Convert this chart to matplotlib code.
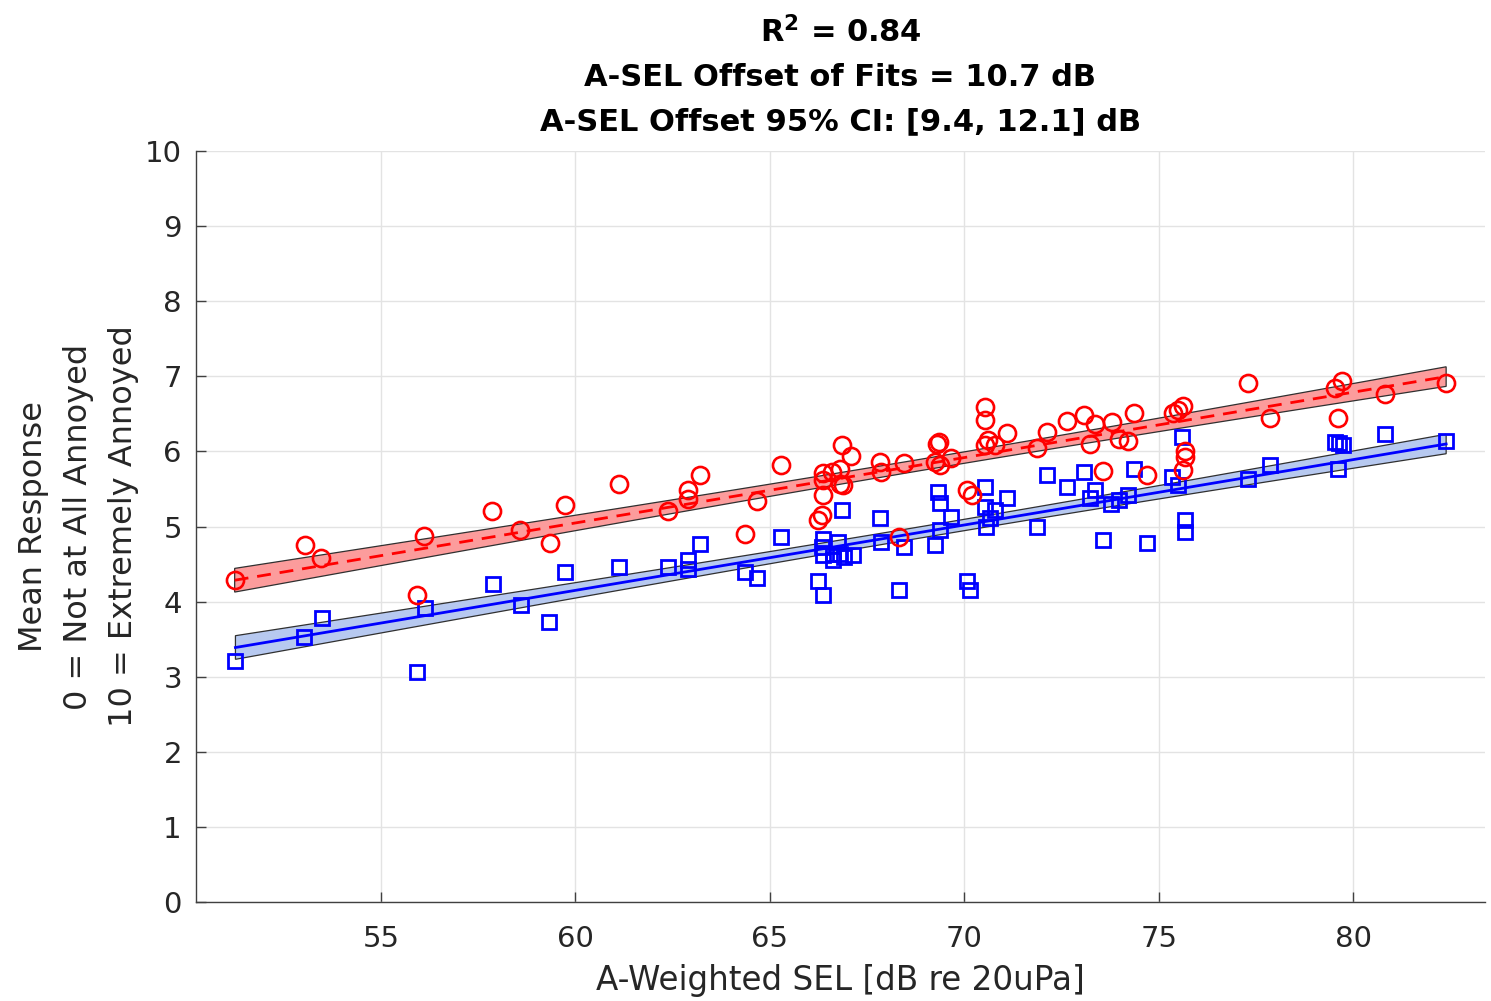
import numpy as np
import matplotlib
matplotlib.use("Agg")
import matplotlib.pyplot as plt
from matplotlib.patches import Polygon

plt.rcParams['font.family'] = ['DejaVu Sans']
plt.rcParams['mathtext.fontset'] = 'dejavusans'

# A-weighted SEL and mean annoyance for the two stimulus groups
red_x = [51.24, 53.04, 53.47, 55.94, 56.12, 57.86, 58.58, 59.35, 59.74, 61.13,
         62.38, 62.90, 62.90, 63.20, 64.35, 64.66, 65.30, 66.25, 66.33, 66.38,
         66.38, 66.38, 66.59, 66.81, 66.81, 66.85, 66.89, 67.10, 67.83, 67.87,
         68.33, 68.45, 69.25, 69.30, 69.35, 69.38, 69.67, 70.06, 70.19, 70.53,
         70.53, 70.62, 70.53, 70.79, 71.09, 71.88, 72.13, 72.63, 73.08, 73.23,
         73.36, 73.57, 73.81, 73.98, 74.20, 74.36, 74.71, 75.37, 75.50, 75.63,
         75.67, 75.67, 75.63, 77.30, 77.85, 79.52, 79.70, 79.61, 80.81, 82.39]
red_y = [4.29, 4.75, 4.58, 4.09, 4.87, 5.21, 4.95, 4.78, 5.29, 5.56,
         5.21, 5.48, 5.37, 5.69, 4.90, 5.34, 5.82, 5.09, 5.15, 5.42,
         5.62, 5.71, 5.73, 5.77, 5.57, 6.08, 5.55, 5.94, 5.86, 5.73,
         4.86, 5.85, 5.86, 6.10, 6.13, 5.82, 5.91, 5.49, 5.42, 6.59,
         6.42, 6.15, 6.08, 6.08, 6.24, 6.04, 6.26, 6.40, 6.48, 6.10,
         6.37, 5.74, 6.39, 6.17, 6.14, 6.51, 5.69, 6.51, 6.55, 6.61,
         6.00, 5.93, 5.75, 6.91, 6.44, 6.84, 6.93, 6.44, 6.77, 6.91]

blue_x = [51.26, 53.03, 53.49, 55.93, 56.14, 57.87, 58.60, 59.33, 59.74, 61.13,
          62.37, 62.90, 62.90, 63.20, 64.35, 64.66, 65.30, 66.25, 66.38, 66.38,
          66.33, 66.38, 66.63, 66.63, 66.76, 66.81, 66.85, 66.90, 67.15, 67.83,
          67.87, 68.33, 68.45, 69.24, 69.33, 69.37, 69.37, 69.67, 70.06, 70.14,
          70.53, 70.53, 70.79, 70.66, 70.57, 71.09, 71.88, 72.13, 72.65, 73.08,
          73.36, 73.23, 73.57, 73.78, 73.98, 74.20, 74.36, 74.71, 75.33, 75.50,
          75.61, 75.67, 75.67, 77.30, 77.85, 79.52, 79.63, 79.73, 79.61, 80.81,
          82.39]
blue_y = [3.21, 3.53, 3.78, 3.07, 3.91, 4.24, 3.96, 3.73, 4.39, 4.46,
          4.46, 4.55, 4.44, 4.77, 4.40, 4.31, 4.86, 4.27, 4.09, 4.84,
          4.73, 4.62, 4.55, 4.64, 4.80, 4.64, 5.22, 4.59, 4.62, 5.11,
          4.80, 4.16, 4.73, 4.75, 5.46, 5.31, 4.95, 5.13, 4.27, 4.16,
          5.53, 5.26, 5.22, 5.11, 5.00, 5.38, 5.00, 5.69, 5.53, 5.72,
          5.49, 5.38, 4.82, 5.30, 5.35, 5.42, 5.76, 4.78, 5.66, 5.55,
          6.19, 5.09, 4.93, 5.63, 5.82, 6.13, 6.11, 6.08, 5.77, 6.23,
          6.14]

title_lines = [r"$\mathbf{R^2}$ = 0.84",
               "A-SEL Offset of Fits = 10.7 dB",
               "A-SEL Offset 95% CI: [9.4, 12.1] dB"]
x_ticks = [55, 60, 65, 70, 75, 80]
y_ticks = list(range(0, 11))
T_CRIT = 1.977

# Common-slope linear model: y = b0 + b1*x + b2*group
rx, ry = np.array(red_x), np.array(red_y)
bx, by = np.array(blue_x), np.array(blue_y)
X = np.column_stack([np.ones(rx.size + bx.size),
                     np.concatenate([rx, bx]),
                     np.concatenate([np.ones(rx.size), np.zeros(bx.size)])])
Y = np.concatenate([ry, by])
beta, *_ = np.linalg.lstsq(X, Y, rcond=None)
resid = Y - X @ beta
dof = Y.size - X.shape[1]
s2 = resid @ resid / dof
cov = s2 * np.linalg.inv(X.T @ X)


def fit_band(xs, grp):
    D = np.column_stack([np.ones_like(xs), xs, np.full_like(xs, grp)])
    yh = D @ beta
    se = np.sqrt(np.einsum('ij,jk,ik->i', D, cov, D))
    return yh, yh - T_CRIT * se, yh + T_CRIT * se


fig = plt.figure(figsize=(14.91, 10.01), dpi=100)
ax = fig.add_axes([0.1313, 0.0986, 0.8647, 0.7508])

xmin = min(min(red_x), min(blue_x))
xmax = max(max(red_x), max(blue_x))
ax.set_xlim(xmin - 1, xmax + 1)
ax.set_ylim(0, 10)

for xs_data, grp, fill, col, ls in [(rx, 1, '#fc9c9c', 'red', (0, (5.0, 3.2))),
                                    (bx, 0, '#b7c9f0', 'blue', '-')]:
    xs = np.linspace(xs_data.min(), xs_data.max(), 200)
    yh, lo, hi = fit_band(xs, grp)
    poly = np.column_stack([np.concatenate([xs, xs[::-1]]),
                            np.concatenate([hi, lo[::-1]])])
    ax.add_patch(Polygon(poly, closed=True, facecolor=fill, edgecolor='#303030',
                         linewidth=0.9, zorder=2))
    ax.plot(xs, yh, color=col, linestyle=ls, linewidth=2.0, zorder=3)

ax.plot(bx, by, linestyle='none', marker='s', markersize=9.8,
        markerfacecolor='none', markeredgecolor='blue', markeredgewidth=2.0, zorder=4)
ax.plot(rx, ry, linestyle='none', marker='o', markersize=12.3,
        markerfacecolor='none', markeredgecolor='red', markeredgewidth=1.9, zorder=5)

ax.set_xticks(x_ticks)
ax.set_yticks(y_ticks)
ax.grid(True, color='#e3e3e3', linewidth=1.0)
ax.set_axisbelow(True)
for side in ['top', 'right']:
    ax.spines[side].set_visible(False)
for side in ['left', 'bottom']:
    ax.spines[side].set_color('#404040')
    ax.spines[side].set_linewidth(1.0)
ax.tick_params(direction='in', length=7, width=1.0, color='#404040',
               labelsize=21, labelcolor='#262626')
ax.tick_params(axis='x', pad=16)
ax.tick_params(axis='y', pad=10)

ax.set_xlabel("A-Weighted SEL [dB re 20uPa]", fontsize=23.5, color='#262626', labelpad=8)
ax.set_ylabel("Mean Response\n0 = Not at All Annoyed\n10 = Extremely Annoyed",
              fontsize=23, color='#262626', labelpad=4, linespacing=1.6)

for i, line in enumerate(title_lines):
    fig.text(0.5637, 0.968 - 0.045 * i, line, ha='center', va='center',
             fontsize=22, fontweight='bold')

fig.savefig("out.png", dpi=100)
